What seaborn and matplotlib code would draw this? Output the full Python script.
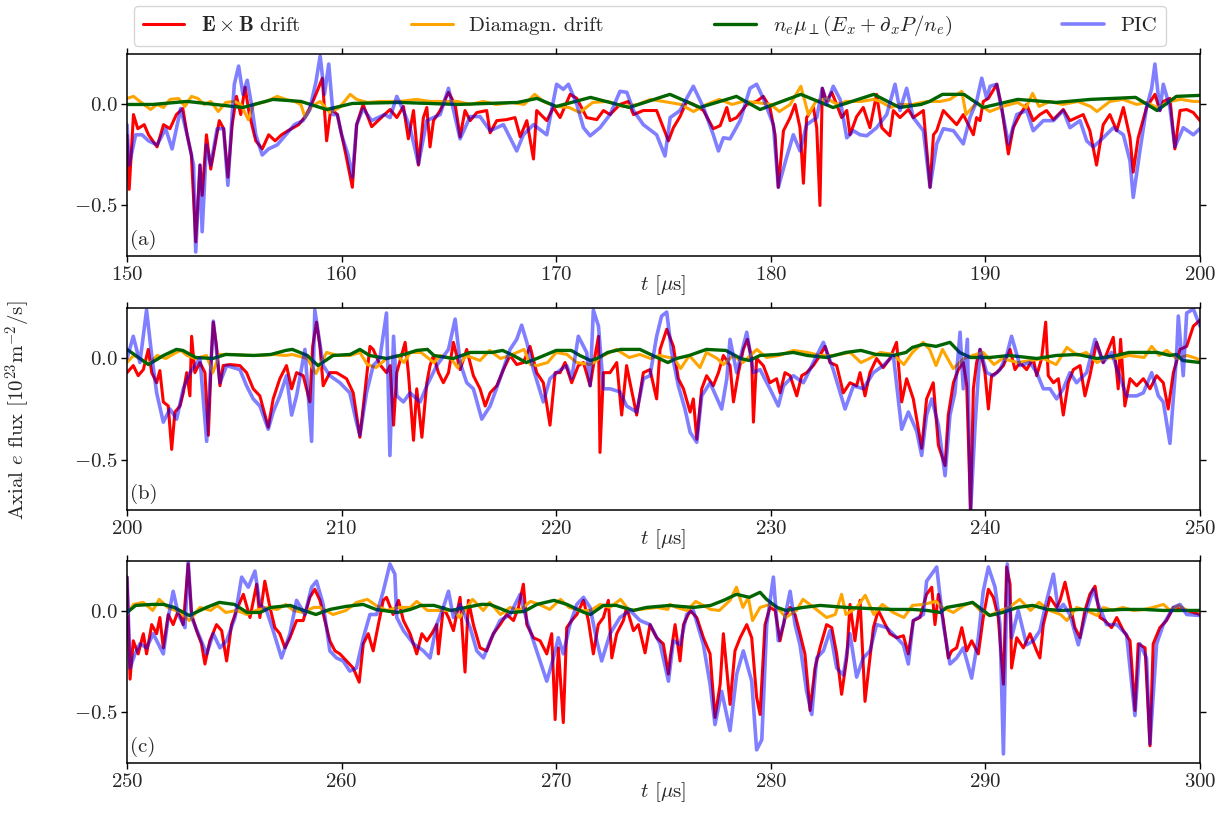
import numpy as np
import matplotlib
matplotlib.use("Agg")
import matplotlib.pyplot as plt
import seaborn as sns

# values: (t [us], axial e flux [1e23 m^-2/s])
# ---- panel (a): 150-200 us ----
EXB_A = [(150.0, -0.15), (150.1, -0.42), (150.3, -0.05), (150.5, -0.12), (150.8, -0.10), (151.0, -0.15),
         (151.4, -0.21), (151.7, -0.10), (152.0, -0.12), (152.3, -0.05), (152.6, -0.02), (152.8, -0.15),
         (153.0, -0.25), (153.2, -0.68), (153.4, -0.30), (153.5, -0.45), (153.7, -0.15), (153.9, -0.32),
         (154.1, -0.20), (154.3, -0.08), (154.5, -0.12), (154.7, -0.36), (154.9, -0.10), (155.1, 0.04),
         (155.3, -0.05), (155.5, 0.085), (155.7, -0.05), (156.0, -0.18), (156.3, -0.22), (156.6, -0.15),
         (156.9, -0.18), (157.2, -0.15), (157.5, -0.13), (158.0, -0.10), (158.3, -0.06), (158.6, 0.0),
         (158.8, 0.05), (159.1, 0.13), (159.3, -0.18), (159.5, -0.02), (159.8, -0.05), (160.0, -0.15),
         (160.2, -0.25), (160.5, -0.41), (160.7, -0.10), (161.0, 0.0), (161.4, -0.11), (161.7, -0.08),
         (162.0, -0.05), (162.26, -0.025), (162.57, -0.065), (162.88, -0.01), (163.11, -0.17), (163.35, -0.03),
         (163.58, -0.30), (163.81, -0.065), (163.97, -0.015), (164.12, -0.21), (164.28, -0.08), (164.59, -0.03),
         (164.98, 0.06), (165.29, 0.0), (165.52, -0.16), (165.75, -0.03), (165.99, -0.08), (166.30, -0.04),
         (166.76, -0.03), (166.92, -0.14), (167.23, -0.08), (167.69, -0.075), (168.08, -0.065), (168.32, -0.16),
         (168.63, -0.08), (168.94, -0.27), (169.09, -0.03), (169.56, -0.08), (169.87, -0.015), (170.18, -0.065),
         (170.65, 0.05), (170.96, 0.03), (171.42, -0.065), (171.89, -0.075), (172.20, -0.03), (172.51, -0.05),
         (172.97, 0.0), (173.36, 0.015), (173.60, -0.05), (174.06, -0.03), (174.68, -0.03), (174.99, -0.115),
         (175.23, -0.18), (175.46, -0.115), (175.77, -0.06), (176.08, 0.015), (176.39, 0.0), (176.86, -0.03),
         (177.32, -0.12), (177.64, -0.105), (177.95, -0.015), (178.10, -0.08), (178.41, -0.065), (178.88, 0.0),
         (179.34, 0.015), (179.65, 0.04), (179.96, -0.015), (180.20, -0.15), (180.35, -0.41), (180.59, -0.13),
         (180.90, -0.065), (181.13, 0.0), (181.36, -0.115), (181.52, -0.39), (181.67, -0.065), (181.98, -0.01),
         (182.14, -0.115), (182.29, -0.50), (182.40, 0.08), (182.60, 0.015), (182.84, 0.06), (183.07, 0.0),
         (183.30, -0.065), (183.54, -0.03), (183.69, -0.15), (184.00, -0.06), (184.31, -0.015), (184.62, -0.115),
         (184.93, 0.05), (185.17, -0.115), (185.55, -0.155), (185.71, -0.03), (186.02, -0.065), (186.41, -0.025),
         (186.64, -0.065), (187.11, -0.03), (187.42, -0.41), (187.58, -0.15), (187.73, -0.13), (188.04, -0.03),
         (188.35, -0.065), (188.66, -0.10), (188.97, -0.05), (189.44, -0.15), (189.59, -0.065), (189.75, -0.08),
         (189.90, 0.015), (190.14, 0.03), (190.53, 0.10), (190.76, -0.015), (191.07, -0.245), (191.30, -0.115),
         (191.61, -0.05), (191.92, 0.0), (192.23, -0.08), (192.54, -0.05), (192.85, -0.03), (193.17, -0.075),
         (193.63, -0.025), (193.94, -0.08), (194.25, -0.065), (194.56, -0.05), (194.87, -0.13), (195.18, -0.30),
         (195.49, -0.10), (195.80, -0.05), (196.12, -0.13), (196.43, -0.015), (196.74, -0.165), (196.89, -0.335),
         (197.12, -0.165), (197.51, -0.015), (197.90, 0.05), (198.13, -0.03), (198.29, 0.015), (198.60, 0.03),
         (198.83, -0.22), (199.07, -0.03), (199.38, -0.025), (199.69, -0.04), (200.0, -0.08)]

PIC_A = [(150.0, -0.10), (150.1, -0.30), (150.4, -0.15), (150.7, -0.15), (151.0, -0.18), (151.4, -0.20),
         (151.8, -0.12), (152.1, -0.22), (152.5, -0.02), (152.8, -0.15), (153.1, -0.30), (153.2, -0.73),
         (153.4, -0.30), (153.5, -0.63), (153.7, -0.20), (153.9, -0.30), (154.2, -0.12), (154.5, -0.12),
         (154.7, -0.40), (154.9, -0.05), (155.0, 0.10), (155.2, 0.19), (155.4, 0.05), (155.6, 0.12),
         (155.8, 0.0), (156.0, -0.15), (156.3, -0.25), (156.6, -0.22), (157.0, -0.20), (157.4, -0.15),
         (157.8, -0.10), (158.2, -0.08), (158.5, -0.03), (158.8, 0.11), (159.0, 0.24), (159.2, 0.05),
         (159.4, 0.20), (159.6, -0.05), (159.8, -0.05), (160.0, -0.15), (160.3, -0.25), (160.5, -0.36),
         (160.7, -0.10), (161.0, -0.02), (161.4, -0.08), (162.0, -0.05), (162.26, -0.065), (162.57, 0.04),
         (162.88, -0.03), (163.19, -0.115), (163.58, -0.295), (163.97, -0.08), (164.59, -0.05), (164.98, 0.08),
         (165.52, -0.17), (165.99, -0.06), (166.45, -0.06), (166.92, -0.13), (167.54, -0.10), (168.16, -0.23),
         (168.47, -0.15), (168.94, -0.10), (169.56, -0.15), (170.02, 0.10), (170.33, 0.075), (170.57, 0.10),
         (170.96, 0.0), (171.27, -0.115), (171.58, -0.155), (172.04, -0.115), (172.51, -0.05), (172.97, 0.065),
         (173.29, 0.06), (173.60, -0.03), (174.06, -0.10), (174.68, -0.15), (175.07, -0.255), (175.31, -0.065),
         (175.77, -0.03), (176.39, 0.09), (176.86, -0.015), (177.32, -0.15), (177.56, -0.23), (177.79, -0.165),
         (178.10, -0.17), (178.57, -0.08), (179.03, 0.08), (179.34, 0.10), (179.65, 0.03), (180.12, -0.10),
         (180.35, -0.41), (180.74, -0.26), (181.05, -0.15), (181.36, -0.23), (181.67, -0.10), (182.14, -0.065),
         (182.40, 0.08), (182.60, 0.0), (182.91, 0.09), (183.23, 0.025), (183.54, -0.165), (183.85, -0.13),
         (184.16, -0.15), (184.47, -0.155), (184.93, -0.115), (185.40, -0.05), (185.79, 0.10), (186.02, -0.03),
         (186.33, 0.08), (186.64, -0.065), (187.11, -0.13), (187.42, -0.41), (187.73, -0.195), (188.04, -0.12),
         (188.51, -0.13), (188.97, -0.195), (189.28, -0.065), (189.59, 0.015), (189.83, 0.13), (190.06, 0.03),
         (190.22, 0.09), (190.53, 0.10), (190.84, -0.065), (191.07, -0.195), (191.46, -0.05), (191.92, -0.03),
         (192.23, -0.13), (192.70, -0.08), (193.17, -0.08), (193.63, -0.03), (193.94, -0.115), (194.41, -0.08),
         (194.72, -0.18), (195.03, -0.21), (195.49, -0.165), (195.96, -0.115), (196.43, -0.15), (196.74, -0.28),
         (196.89, -0.46), (197.20, -0.23), (197.51, -0.015), (197.75, 0.08), (197.90, 0.20), (198.13, -0.03),
         (198.29, 0.10), (198.60, -0.015), (198.83, -0.21), (199.22, -0.115), (199.69, -0.15), (200.0, -0.12)]

DIA_A = [(150.0, 0.03), (150.3, 0.04), (150.6, 0.015), (151.1, -0.025), (151.4, 0.0), (151.7, -0.015),
         (152.0, 0.025), (152.4, 0.03), (152.7, -0.01), (153.0, 0.04), (153.3, 0.03), (153.6, 0.0),
         (153.9, 0.015), (154.25, -0.035), (154.6, 0.01), (155.0, 0.015), (155.3, 0.0), (155.65, -0.075),
         (155.9, 0.0), (156.5, 0.015), (157.0, 0.04), (157.4, 0.025), (157.8, 0.015), (158.1, 0.0),
         (158.3, -0.065), (158.6, -0.01), (159.0, 0.015), (159.45, -0.04), (159.9, -0.015), (160.4, 0.05),
         (160.7, 0.025), (161.2, 0.01), (161.8, 0.015), (162.4, 0.015), (162.7, 0.015), (163.5, 0.025),
         (164.1, 0.015), (164.7, 0.015), (165.4, 0.015), (166.0, 0.0), (166.6, 0.015), (167.2, 0.0),
         (167.9, 0.01), (168.5, 0.0), (169.0, 0.05), (169.4, 0.015), (170.0, -0.01), (170.6, -0.015),
         (171.1, -0.04), (171.7, 0.01), (172.4, 0.015), (173.1, -0.01), (173.8, 0.0), (174.4, 0.025),
         (175.0, 0.015), (175.8, 0.0), (176.4, -0.035), (177.0, 0.0), (177.6, 0.025), (178.2, 0.0),
         (178.7, 0.015), (179.3, 0.01), (180.0, 0.0), (180.4, -0.035), (180.9, 0.0), (181.4, 0.09),
         (181.75, -0.05), (182.1, 0.015), (182.6, 0.03), (183.1, 0.0), (183.5, 0.015), (184.2, 0.015),
         (184.8, 0.025), (185.1, 0.015), (185.6, -0.015), (186.0, 0.0), (186.6, 0.0), (187.3, 0.015),
         (187.9, 0.015), (188.35, 0.025), (188.9, 0.065), (189.1, -0.05), (189.6, 0.01), (190.2, -0.035),
         (190.8, -0.01), (191.5, 0.01), (191.9, -0.015), (192.2, 0.055), (192.5, -0.01), (193.0, 0.015),
         (193.6, 0.0), (194.3, 0.015), (194.9, -0.01), (195.2, -0.035), (195.8, 0.015), (196.4, 0.025),
         (197.05, 0.0), (197.5, 0.01), (198.0, -0.015), (198.6, 0.015), (199.1, 0.025), (199.7, 0.015),
         (200.0, 0.015)]

MOB_A = [(150.0, 0.0), (151.2, 0.0), (152.8, 0.015), (155.4, -0.015), (156.8, 0.025), (158.1, 0.015),
         (159.3, -0.025), (160.5, 0.005), (162.7, 0.01), (165.4, 0.0), (168.2, 0.01), (169.1, 0.03),
         (170.0, -0.01), (171.6, 0.035), (173.4, -0.015), (175.0, 0.04), (175.3, 0.05), (176.7, -0.015),
         (178.4, 0.04), (179.5, -0.025), (181.4, 0.05), (182.9, -0.015), (184.8, 0.05), (186.0, -0.015),
         (187.0, 0.0), (187.4, 0.015), (188.0, 0.05), (189.0, 0.05), (189.9, -0.015), (191.5, 0.025),
         (193.3, 0.01), (194.9, 0.025), (197.0, 0.035), (198.0, -0.03), (198.9, 0.04), (200.0, 0.045)]

# ---- panel (b): 200-250 us ----
EXB_B = [(200.0, -0.07), (200.29, -0.035), (200.52, -0.085), (200.76, -0.055), (200.99, 0.045), (201.15, -0.07),
         (201.38, -0.12), (201.53, -0.06), (201.69, -0.215), (201.92, -0.235), (202.08, -0.45), (202.23, -0.265),
         (202.47, -0.235), (202.62, -0.17), (202.78, -0.07), (202.93, -0.185), (203.01, 0.11), (203.16, -0.07),
         (203.40, -0.02), (203.63, -0.07), (203.79, -0.38), (203.94, 0.03), (204.02, 0.18), (204.17, 0.06),
         (204.33, -0.135), (204.48, -0.035), (204.79, -0.03), (205.26, -0.035), (205.57, -0.07), (205.88, -0.15),
         (206.19, -0.185), (206.58, -0.34), (206.81, -0.20), (207.12, -0.10), (207.43, -0.035), (207.67, -0.15),
         (207.90, -0.07), (208.21, -0.085), (208.52, -0.215), (208.65, 0.06), (208.83, 0.18), (208.99, 0.06),
         (209.14, -0.135), (209.45, -0.07), (209.76, -0.07), (210.23, -0.10), (210.54, -0.17), (210.85, -0.39),
         (211.08, -0.17), (211.32, 0.06), (211.47, 0.045), (211.78, -0.03), (212.09, -0.07), (212.26, -0.035),
         (212.42, -0.33), (212.57, -0.07), (212.96, 0.08), (213.11, -0.07), (213.35, -0.405), (213.50, -0.15),
         (213.74, -0.39), (213.97, -0.12), (214.12, -0.035), (214.28, 0.015), (214.51, -0.07), (214.74, -0.12),
         (214.98, -0.07), (215.21, 0.08), (215.52, -0.055), (215.83, 0.045), (216.14, -0.085), (216.45, -0.15),
         (216.69, -0.235), (216.92, -0.17), (217.23, -0.135), (217.54, -0.055), (217.85, 0.015), (218.16, -0.03),
         (218.47, -0.02), (218.78, 0.06), (219.09, -0.07), (219.40, -0.12), (219.71, -0.33), (219.95, -0.07),
         (220.18, -0.07), (220.41, -0.02), (220.72, -0.12), (221.03, -0.035), (221.27, -0.02), (221.58, -0.135),
         (221.81, 0.015), (221.97, 0.11), (222.04, -0.465), (222.20, -0.07), (222.51, -0.07), (222.82, -0.02),
         (223.05, -0.28), (223.28, -0.035), (223.44, -0.12), (223.75, -0.28), (224.06, -0.07), (224.37, -0.055),
         (224.68, -0.20), (224.84, 0.045), (225.15, 0.145), (225.46, 0.06), (225.69, -0.10), (225.93, -0.15),
         (226.24, -0.265), (226.39, -0.20), (226.55, -0.40), (226.78, -0.15), (227.01, -0.085), (227.32, -0.135),
         (227.56, -0.07), (227.79, 0.015), (228.10, -0.035), (228.26, -0.215), (228.49, -0.07), (228.72, 0.045),
         (228.91, 0.095), (229.11, 0.0), (229.19, -0.315), (229.34, 0.0), (229.65, -0.035), (229.96, -0.12),
         (230.27, -0.10), (230.43, -0.17), (230.66, -0.07), (230.90, -0.085), (231.21, -0.185), (231.44, -0.085),
         (231.67, -0.07), (231.98, -0.035), (232.29, 0.015), (232.53, 0.06), (232.76, -0.02), (233.07, -0.035),
         (233.38, -0.17), (233.69, -0.12), (234.00, -0.135), (234.16, -0.07), (234.39, -0.185), (234.62, -0.07),
         (234.93, 0.0), (235.24, -0.045), (235.55, 0.0), (235.86, 0.08), (236.10, -0.215), (236.33, -0.10),
         (236.64, -0.20), (237.03, -0.445), (237.26, -0.20), (237.57, -0.12), (237.81, -0.43), (238.12, -0.53),
         (238.27, -0.28), (238.51, -0.12), (238.74, -0.055), (238.97, -0.02), (239.13, -0.135), (239.31, -0.76),
         (239.44, -0.15), (239.59, -0.02), (239.75, 0.045), (239.98, -0.07), (240.14, -0.25), (240.29, -0.085),
         (240.53, -0.07), (240.84, -0.035), (241.15, 0.045), (241.38, -0.055), (241.61, -0.02), (241.92, -0.055),
         (242.23, 0.0), (242.39, -0.085), (242.62, 0.0), (242.81, 0.18), (242.93, -0.085), (243.17, -0.12),
         (243.40, -0.10), (243.63, -0.28), (243.86, -0.12), (244.10, -0.055), (244.41, -0.035), (244.64, -0.185),
         (244.87, -0.085), (245.18, 0.08), (245.49, -0.02), (245.73, 0.045), (245.96, 0.105), (246.19, -0.15),
         (246.30, 0.095), (246.50, -0.235), (246.74, -0.10), (247.05, -0.135), (247.36, -0.10), (247.67, -0.15),
         (247.98, -0.085), (248.29, -0.12), (248.52, -0.25), (248.76, -0.07), (249.07, 0.045), (249.38, 0.06),
         (249.69, 0.16), (250.0, 0.19)]

PIC_B = [(200.0, 0.0), (200.29, 0.11), (200.60, -0.02), (200.91, 0.24), (201.15, 0.015), (201.38, -0.17),
         (201.69, -0.315), (202.00, -0.25), (202.31, -0.30), (202.62, -0.15), (202.93, -0.07), (203.40, 0.0),
         (203.71, -0.41), (204.02, 0.185), (204.33, -0.12), (204.64, -0.035), (205.26, -0.055), (205.57, -0.135),
         (205.88, -0.20), (206.19, -0.235), (206.58, -0.35), (206.81, -0.265), (207.12, -0.185), (207.43, -0.085),
         (207.67, -0.28), (207.90, -0.185), (208.29, 0.045), (208.60, -0.41), (208.75, 0.24), (209.14, -0.035),
         (209.45, -0.085), (209.92, -0.12), (210.38, -0.17), (210.69, -0.315), (210.85, -0.38), (211.16, -0.17),
         (211.47, -0.035), (211.78, 0.0), (212.09, 0.225), (212.25, -0.48), (212.42, 0.11), (212.57, -0.185),
         (212.88, -0.215), (213.19, -0.17), (213.66, -0.215), (213.97, -0.135), (214.43, -0.035), (214.98, 0.045),
         (215.29, 0.195), (215.52, -0.02), (215.83, -0.12), (216.14, -0.15), (216.53, -0.30), (216.92, -0.235),
         (217.38, -0.10), (217.85, 0.045), (218.16, 0.095), (218.39, 0.165), (218.63, 0.08), (218.94, -0.055),
         (219.40, -0.215), (219.71, -0.10), (220.02, -0.07), (220.49, -0.035), (220.72, -0.10), (221.03, 0.11),
         (221.42, 0.03), (221.58, -0.135), (221.73, 0.24), (221.97, 0.16), (222.20, -0.15), (222.51, -0.15),
         (222.97, -0.165), (223.28, -0.235), (223.75, -0.265), (224.06, -0.10), (224.37, -0.085), (224.68, 0.11),
         (224.91, 0.21), (225.15, 0.23), (225.38, 0.03), (225.69, -0.135), (226.00, -0.25), (226.24, -0.365),
         (226.55, -0.415), (226.78, -0.185), (227.17, -0.12), (227.71, -0.25), (227.95, -0.10), (228.10, 0.095),
         (228.41, -0.07), (228.88, 0.13), (229.19, -0.07), (229.50, -0.055), (229.96, -0.15), (230.35, -0.235),
         (230.59, -0.135), (231.05, -0.085), (231.52, -0.12), (231.98, -0.02), (232.45, 0.08), (232.91, -0.055),
         (233.46, -0.25), (233.85, -0.135), (234.31, -0.15), (234.78, -0.07), (235.24, -0.035), (235.71, 0.015),
         (236.10, -0.35), (236.41, -0.265), (236.80, -0.36), (237.03, -0.48), (237.26, -0.28), (237.50, -0.20),
         (237.81, -0.33), (238.12, -0.58), (238.35, -0.28), (238.58, -0.17), (238.82, 0.13), (238.97, -0.15),
         (239.16, 0.095), (239.31, -0.76), (239.52, -0.33), (239.75, 0.045), (240.06, -0.07), (240.37, -0.085),
         (240.68, -0.055), (240.99, 0.015), (241.22, 0.11), (241.61, -0.035), (242.08, -0.02), (242.39, -0.07),
         (242.70, -0.15), (243.01, -0.15), (243.32, -0.20), (243.63, -0.15), (243.94, -0.07), (244.25, -0.12),
         (244.72, -0.07), (245.11, 0.095), (245.49, -0.02), (245.88, 0.03), (246.19, -0.07), (246.58, -0.185),
         (247.05, -0.185), (247.36, -0.17), (247.75, -0.07), (248.06, -0.185), (248.29, -0.215), (248.60, -0.42),
         (248.91, 0.015), (248.99, 0.21), (249.22, -0.085), (249.38, 0.225), (249.69, 0.245), (250.0, 0.16)]

DIA_B = [(200.0, -0.02), (200.3, 0.015), (200.6, 0.0), (201.0, -0.03), (201.4, 0.015), (201.8, 0.0),
         (202.3, 0.03), (202.5, 0.04), (202.8, 0.015), (203.2, 0.0), (203.7, 0.015), (204.0, -0.07),
         (204.3, 0.02), (204.95, 0.02), (205.6, 0.015), (206.2, 0.015), (206.8, 0.02), (207.4, 0.015),
         (207.7, 0.02), (208.4, 0.0), (208.8, -0.075), (209.3, 0.03), (209.8, 0.015), (210.4, 0.015),
         (210.85, 0.03), (211.2, -0.03), (211.6, -0.045), (212.1, 0.0), (212.6, 0.015), (212.9, -0.02),
         (213.2, 0.03), (213.7, 0.03), (214.3, -0.02), (214.6, 0.015), (215.1, 0.0), (215.4, -0.045),
         (215.8, 0.015), (216.45, -0.01), (216.9, 0.04), (217.4, 0.0), (217.85, 0.015), (218.5, 0.045),
         (218.8, -0.03), (219.1, -0.035), (219.6, -0.02), (220.0, 0.03), (220.5, 0.02), (220.95, -0.02),
         (221.6, -0.03), (222.2, 0.015), (222.8, 0.045), (223.4, 0.005), (223.9, 0.02), (224.4, 0.0),
         (224.8, 0.015), (225.5, 0.0), (225.8, -0.05), (226.2, 0.015), (226.7, -0.045), (227.0, 0.03),
         (227.5, 0.0), (227.8, -0.03), (228.25, 0.015), (228.7, -0.02), (229.35, 0.045), (229.8, 0.005),
         (230.4, 0.015), (231.05, 0.04), (231.7, 0.03), (232.3, 0.015), (232.9, 0.015), (233.7, 0.03),
         (234.2, -0.02), (234.6, 0.0), (235.1, 0.03), (235.7, 0.02), (236.2, -0.03), (236.6, 0.03),
         (237.1, 0.08), (237.4, 0.045), (237.7, -0.035), (238.0, 0.045), (238.5, -0.05), (239.0, 0.0),
         (239.4, 0.015), (239.9, 0.03), (240.4, -0.03), (240.8, 0.0), (241.5, -0.02), (242.1, -0.01),
         (242.7, 0.0), (243.3, -0.03), (243.8, 0.055), (244.3, 0.015), (244.7, 0.03), (245.2, -0.02),
         (245.65, 0.005), (246.1, 0.0), (246.7, 0.015), (247.4, 0.005), (247.75, 0.06), (248.1, 0.015),
         (248.45, 0.04), (248.9, 0.0), (249.4, 0.015), (249.85, 0.0), (250.0, -0.01)]

MOB_B = [(200.0, 0.045), (200.6, 0.0), (201.0, -0.03), (201.7, 0.015), (202.3, 0.045), (202.6, 0.04),
         (203.2, 0.005), (204.0, 0.0), (204.6, 0.02), (205.9, 0.015), (206.7, 0.02), (207.4, 0.04),
         (207.7, 0.045), (208.4, 0.015), (208.9, -0.035), (209.6, 0.015), (210.4, 0.02), (210.85, 0.045),
         (211.3, 0.015), (212.1, 0.0), (212.9, 0.02), (213.5, 0.04), (214.0, 0.045), (214.3, 0.015),
         (215.2, 0.0), (216.0, 0.03), (217.0, 0.03), (217.5, 0.04), (218.0, 0.015), (218.6, -0.02),
         (219.1, 0.0), (220.0, 0.04), (220.7, 0.04), (221.1, 0.015), (221.6, -0.01), (221.9, 0.0),
         (222.4, 0.03), (223.0, 0.045), (223.9, 0.045), (224.5, 0.015), (225.2, -0.02), (225.6, 0.0),
         (226.2, 0.015), (227.0, 0.045), (227.9, 0.04), (228.6, 0.0), (229.0, -0.01), (229.5, 0.015),
         (230.3, 0.02), (231.05, 0.03), (231.7, 0.015), (232.6, 0.005), (233.5, 0.03), (234.2, 0.04),
         (234.9, 0.02), (235.7, 0.015), (236.3, 0.03), (236.6, 0.055), (237.1, 0.07), (237.7, 0.06),
         (238.35, 0.08), (238.8, 0.03), (239.3, 0.005), (240.2, 0.005), (241.1, 0.015), (242.4, 0.0),
         (243.3, 0.015), (244.3, 0.02), (245.2, 0.0), (246.1, 0.015), (246.7, 0.03), (248.0, 0.03),
         (248.6, 0.015), (248.9, 0.02), (249.2, -0.01), (250.0, -0.02)]

# ---- panel (c): 250-300 us ----
EXB_C = [(250.0, 0.17), (250.14, -0.335), (250.29, -0.145), (250.52, -0.21), (250.76, -0.11), (250.91, -0.21),
         (251.15, -0.065), (251.38, -0.11), (251.53, -0.03), (251.69, -0.18), (251.92, -0.015), (252.15, -0.065),
         (252.39, 0.005), (252.62, -0.065), (252.85, 0.235), (253.01, -0.015), (253.24, -0.095), (253.47, -0.16),
         (253.63, -0.26), (253.86, -0.145), (254.17, -0.065), (254.41, -0.095), (254.64, -0.245), (254.87, -0.065),
         (255.10, 0.005), (255.42, 0.085), (255.73, -0.03), (256.04, 0.135), (256.19, -0.03), (256.42, 0.15),
         (256.66, 0.02), (256.89, -0.08), (257.12, -0.11), (257.36, -0.18), (257.59, -0.13), (257.90, -0.045),
         (258.21, -0.045), (258.52, 0.07), (258.75, 0.11), (258.99, 0.055), (259.22, -0.045), (259.45, -0.145),
         (259.69, -0.195), (259.92, -0.21), (260.23, -0.245), (260.54, -0.28), (260.82, -0.35), (261.01, -0.16),
         (261.24, -0.11), (261.47, -0.195), (261.71, -0.065), (261.94, 0.055), (262.09, 0.07), (262.40, -0.015),
         (262.65, 0.055), (262.88, -0.045), (263.19, -0.11), (263.50, -0.21), (263.74, -0.11), (263.97, -0.145),
         (264.20, -0.11), (264.43, -0.065), (264.51, -0.21), (264.74, 0.02), (264.98, -0.03), (265.21, -0.095),
         (265.52, 0.07), (265.75, -0.30), (265.91, 0.055), (266.14, -0.065), (266.45, -0.18), (266.76, -0.195),
         (267.07, -0.11), (267.38, -0.065), (267.69, -0.015), (268.01, -0.045), (268.24, 0.02), (268.47, 0.135),
         (268.63, -0.065), (268.94, -0.13), (269.25, -0.145), (269.56, -0.21), (269.79, -0.11), (269.95, -0.535),
         (270.10, -0.18), (270.33, -0.55), (270.49, -0.08), (270.72, -0.045), (270.96, -0.015), (271.27, 0.055),
         (271.50, -0.045), (271.73, -0.21), (271.96, -0.065), (272.20, -0.03), (272.43, 0.055), (272.59, -0.23),
         (272.82, -0.11), (273.13, -0.045), (273.28, 0.02), (273.60, -0.095), (273.83, -0.065), (274.14, -0.205),
         (274.37, -0.065), (274.68, -0.13), (274.99, -0.16), (275.23, -0.31), (275.31, -0.23), (275.54, -0.065),
         (275.77, -0.245), (275.93, -0.065), (276.24, 0.005), (276.55, -0.03), (276.86, -0.13), (277.17, -0.21),
         (277.40, -0.525), (277.64, -0.36), (277.79, -0.11), (278.10, -0.46), (278.33, -0.195), (278.57, -0.13),
         (278.88, -0.065), (279.11, -0.13), (279.34, -0.425), (279.50, -0.51), (279.73, -0.065), (279.96, 0.02),
         (280.20, 0.005), (280.43, -0.145), (280.66, -0.03), (280.90, 0.02), (281.13, -0.015), (281.36, -0.11),
         (281.59, -0.21), (281.83, -0.49), (282.06, -0.28), (282.29, -0.18), (282.60, -0.065), (282.84, -0.08),
         (283.07, -0.21), (283.30, -0.41), (283.54, -0.23), (283.69, 0.035), (283.92, -0.145), (284.16, 0.055),
         (284.39, -0.445), (284.62, -0.23), (284.78, -0.08), (285.01, 0.005), (285.24, -0.045), (285.55, -0.11),
         (285.87, -0.13), (286.18, -0.12), (286.41, -0.21), (286.64, -0.045), (286.95, -0.03), (287.26, 0.085),
         (287.50, 0.12), (287.65, -0.065), (287.81, 0.085), (288.04, -0.045), (288.27, -0.23), (288.43, -0.195),
         (288.66, -0.18), (288.90, -0.08), (289.13, -0.195), (289.36, -0.145), (289.67, -0.21), (289.90, -0.03),
         (290.14, 0.11), (290.37, 0.07), (290.60, -0.03), (290.84, -0.36), (290.99, 0.22), (291.15, 0.135),
         (291.22, -0.28), (291.46, -0.13), (291.77, -0.18), (292.08, -0.11), (292.39, -0.195), (292.54, -0.23),
         (292.70, -0.065), (293.01, 0.07), (293.32, 0.02), (293.48, 0.055), (293.71, 0.145), (293.94, 0.035),
         (294.17, -0.08), (294.41, -0.13), (294.64, 0.005), (294.87, 0.085), (295.11, 0.125), (295.34, -0.03),
         (295.57, -0.045), (295.88, -0.08), (296.12, -0.03), (296.43, -0.095), (296.74, -0.145), (296.97, -0.49),
         (297.12, -0.16), (297.44, -0.18), (297.67, -0.665), (297.82, -0.16), (298.13, -0.08), (298.44, -0.045),
         (298.76, 0.02), (299.07, 0.02), (299.38, 0.005), (300.0, -0.015)]

PIC_C = [(250.0, 0.17), (250.14, -0.28), (250.37, -0.21), (250.60, -0.16), (250.91, -0.18), (251.22, -0.11),
         (251.69, -0.21), (251.92, -0.03), (252.15, 0.10), (252.39, -0.015), (252.70, -0.08), (252.85, 0.25),
         (253.01, -0.03), (253.32, -0.11), (253.71, -0.21), (254.02, -0.11), (254.33, -0.18), (254.64, -0.145),
         (255.03, -0.03), (255.34, 0.17), (255.65, 0.12), (255.96, 0.20), (256.19, 0.035), (256.50, 0.005),
         (256.81, -0.095), (257.20, -0.23), (257.59, -0.11), (257.90, 0.055), (258.29, -0.015), (258.60, 0.12),
         (258.83, 0.15), (259.14, 0.035), (259.45, -0.195), (259.76, -0.23), (260.07, -0.245), (260.38, -0.295),
         (260.69, -0.28), (261.01, -0.13), (261.32, -0.015), (261.63, -0.015), (261.94, 0.10), (262.25, 0.235),
         (262.48, 0.185), (262.57, -0.03), (262.88, -0.095), (263.35, -0.16), (263.81, -0.195), (264.12, -0.23),
         (264.43, -0.065), (264.74, 0.02), (264.98, 0.10), (265.21, -0.03), (265.52, 0.035), (265.99, -0.08),
         (266.30, -0.195), (266.61, -0.23), (266.92, -0.145), (267.38, -0.045), (267.85, -0.015), (268.32, 0.085),
         (268.63, -0.045), (269.09, -0.195), (269.56, -0.345), (269.87, -0.23), (270.10, -0.13), (270.33, -0.21),
         (270.64, -0.065), (270.96, 0.035), (271.27, 0.07), (271.58, 0.02), (271.89, -0.145), (272.12, -0.245),
         (272.51, -0.11), (272.97, -0.03), (273.44, 0.005), (273.91, -0.045), (274.37, -0.065), (274.84, -0.16),
         (275.23, -0.345), (275.46, -0.145), (275.77, -0.165), (276.08, -0.015), (276.39, 0.005), (276.86, -0.165),
         (277.17, -0.36), (277.40, -0.56), (277.71, -0.395), (278.10, -0.59), (278.41, -0.31), (278.72, -0.195),
         (279.11, -0.345), (279.34, -0.685), (279.58, -0.635), (279.81, -0.065), (280.12, 0.17), (280.35, -0.145),
         (280.59, -0.065), (280.90, 0.10), (281.13, -0.065), (281.36, -0.165), (281.67, -0.395), (281.91, -0.51),
         (282.14, -0.23), (282.45, -0.195), (282.76, -0.095), (283.07, -0.28), (283.38, -0.315), (283.69, -0.11),
         (284.00, -0.325), (284.31, -0.23), (284.62, -0.195), (284.93, -0.065), (285.40, -0.08), (285.87, -0.13),
         (286.18, -0.165), (286.41, -0.26), (286.64, -0.045), (287.11, -0.015), (287.26, 0.15), (287.73, 0.22),
         (288.04, -0.065), (288.35, -0.26), (288.66, -0.23), (288.97, -0.18), (289.36, -0.33), (289.67, -0.13),
         (289.90, 0.10), (290.14, 0.22), (290.45, 0.12), (290.68, -0.065), (290.84, -0.705), (291.02, 0.235),
         (291.22, -0.13), (291.53, 0.005), (291.92, -0.165), (292.23, -0.145), (292.54, -0.095), (292.86, 0.055),
         (293.17, 0.185), (293.40, 0.005), (293.63, 0.035), (293.94, -0.015), (294.33, -0.165), (294.72, 0.005),
         (295.03, 0.11), (295.26, 0.035), (295.65, -0.065), (296.12, -0.065), (296.58, -0.115), (296.97, -0.515),
         (297.20, -0.16), (297.51, -0.23), (297.67, -0.655), (297.98, -0.16), (298.29, -0.065), (298.76, 0.02),
         (299.07, 0.035), (299.38, -0.015), (300.0, -0.02)]

DIA_C = [(250.0, -0.015), (250.3, 0.035), (250.75, 0.045), (251.2, 0.005), (251.5, 0.06), (251.9, 0.02),
         (252.5, -0.005), (252.9, -0.045), (253.4, 0.02), (253.9, 0.005), (254.2, 0.03), (254.6, -0.005),
         (255.1, 0.005), (255.6, -0.015), (256.0, 0.005), (256.5, 0.02), (257.0, 0.01), (257.4, 0.035),
         (257.75, 0.005), (258.2, -0.005), (258.7, 0.02), (259.0, 0.02), (259.6, -0.015), (260.2, 0.005),
         (260.7, 0.045), (261.2, 0.06), (261.6, 0.03), (262.1, 0.005), (262.6, 0.02), (263.2, 0.02),
         (263.5, 0.05), (264.0, 0.005), (264.6, 0.005), (265.2, 0.005), (265.5, -0.03), (266.1, 0.06),
         (266.6, 0.005), (266.9, 0.045), (267.4, -0.015), (267.85, 0.02), (268.3, 0.005), (268.8, 0.05),
         (269.2, 0.035), (269.7, 0.01), (270.2, 0.06), (270.6, 0.02), (271.1, 0.005), (271.6, 0.005),
         (272.05, 0.035), (272.5, 0.02), (273.0, 0.06), (273.4, 0.005), (273.9, 0.01), (274.7, 0.02),
         (275.2, 0.01), (275.3, 0.035), (275.6, 0.02), (276.1, 0.005), (276.5, 0.05), (277.2, 0.01),
         (277.6, 0.005), (278.1, 0.055), (278.4, 0.12), (278.7, 0.02), (278.95, 0.07), (279.15, -0.045),
         (279.5, 0.02), (279.96, 0.035), (280.3, 0.02), (280.7, -0.03), (281.2, 0.005), (281.5, 0.06),
         (282.0, 0.02), (282.6, -0.03), (283.0, -0.015), (283.3, 0.085), (283.5, -0.015), (284.0, 0.02),
         (284.4, 0.08), (284.8, -0.015), (285.2, 0.035), (285.7, -0.005), (286.2, -0.03), (286.6, 0.03),
         (287.1, 0.035), (287.7, 0.05), (288.0, 0.02), (288.5, -0.005), (289.0, 0.03), (289.4, 0.045),
         (289.75, 0.005), (290.2, -0.02), (290.7, 0.005), (291.1, 0.02), (291.6, 0.06), (292.1, 0.005),
         (292.5, 0.045), (293.0, 0.005), (293.5, -0.015), (293.8, -0.045), (294.25, 0.02), (294.7, 0.005),
         (295.2, -0.02), (295.5, 0.02), (295.95, 0.005), (296.4, 0.02), (296.9, 0.005), (297.4, 0.01),
         (297.8, 0.02), (298.3, 0.035), (298.6, 0.005), (299.0, 0.03), (299.4, 0.005), (300.0, 0.005)]

MOB_C = [(250.0, -0.005), (250.4, 0.03), (251.2, 0.035), (251.7, 0.035), (252.2, 0.02), (252.9, -0.02),
         (253.7, 0.02), (254.3, 0.045), (255.0, 0.035), (255.6, -0.005), (256.2, -0.005), (256.7, 0.02),
         (257.6, 0.03), (258.1, 0.01), (258.8, -0.015), (259.45, 0.01), (260.2, 0.025), (261.0, 0.035),
         (261.6, 0.01), (262.6, -0.005), (263.2, 0.01), (263.7, 0.03), (264.3, 0.03), (265.1, 0.005),
         (265.8, 0.02), (266.5, 0.035), (266.9, 0.035), (267.5, 0.01), (267.85, -0.005), (268.5, 0.0),
         (269.1, 0.035), (269.9, 0.055), (270.5, 0.035), (271.3, -0.005), (271.6, -0.015), (272.2, 0.03),
         (272.8, 0.03), (273.6, 0.005), (274.2, 0.02), (275.3, 0.03), (275.8, 0.025), (276.4, 0.02),
         (277.2, 0.03), (277.8, 0.055), (278.4, 0.085), (279.0, 0.07), (279.5, 0.095), (279.8, 0.06),
         (280.3, 0.02), (280.7, 0.005), (281.5, 0.02), (282.3, 0.03), (283.5, 0.02), (284.5, 0.015),
         (285.7, 0.01), (286.6, 0.01), (287.3, 0.005), (287.9, -0.005), (288.2, 0.02), (289.0, 0.035),
         (289.4, 0.045), (289.9, 0.005), (290.2, -0.02), (290.8, -0.005), (291.5, 0.02), (292.2, 0.03),
         (292.9, 0.01), (293.6, 0.005), (294.4, 0.01), (295.5, 0.005), (296.4, 0.01), (297.4, 0.01),
         (298.3, 0.005), (299.1, 0.005), (300.0, 0.005)]

PANELS = [("(a)", 150, 200, EXB_A, DIA_A, MOB_A, PIC_A),
          ("(b)", 200, 250, EXB_B, DIA_B, MOB_B, PIC_B),
          ("(c)", 250, 300, EXB_C, DIA_C, MOB_C, PIC_C)]

LABELS = [r"$\mathbf{E}\times\mathbf{B}$ drift", "Diamagn. drift",
          r"$n_e\mu_\perp(E_x+\partial_x P/n_e)$", "PIC"]

sns.set_theme(style="ticks")
plt.rcParams["font.family"] = ["cmr10", "DejaVu Serif"]
plt.rcParams["mathtext.fontset"] = "cm"
plt.rcParams["axes.formatter.use_mathtext"] = True
plt.rcParams["axes.unicode_minus"] = True

fig = plt.figure(figsize=(12.31, 8.15), dpi=100)
bottoms = [0.6859, 0.3742, 0.0638]
axes = [fig.add_axes([0.1032, b, 0.8716, 0.2479]) for b in bottoms]

for ax, (tag, t0, t1, exb, dia, mob, pic) in zip(axes, PANELS):
    series = [(exb, "red", 2.2, 1.0), (dia, "orange", 2.2, 1.0),
              (mob, "darkgreen", 2.4, 1.0), (pic, "blue", 2.6, 0.5)]
    for (data, col, lw, a), lab in zip(series, LABELS):
        t, v = np.array(data).T
        sns.lineplot(x=t, y=v, ax=ax, color=col, lw=lw, alpha=a,
                     estimator=None, sort=False, label=lab, legend=False)

    ax.set_xlim(t0, t1)
    ax.set_ylim(-0.75, 0.25)
    ax.set_xticks(np.arange(t0, t1 + 1, 10))
    ax.set_yticks([-0.5, 0.0])
    ax.tick_params(direction="out", top=True, right=True, labelsize=15,
                   length=4, width=1, color="black", pad=3)
    for sp in ax.spines.values():
        sp.set_visible(True)
        sp.set_color("black")
        sp.set_linewidth(1.1)
    ax.set_xlabel(r"$t$ [$\mu$s]", fontsize=15)
    ax.xaxis.set_label_coords(0.5, -0.085)
    ax.set_ylabel("")
    ax.text(0.003, 0.03, tag, transform=ax.transAxes, fontsize=15,
            ha="left", va="bottom")

fig.text(0.015, 0.497, r"Axial $e$ flux [$10^{23}$m$^{-2}$/s]", rotation=90,
         ha="center", va="center", fontsize=15)

handles, labels = axes[0].get_legend_handles_labels()
fig.legend(handles, labels, loc="upper center", bbox_to_anchor=(0.528, 1.006),
           ncol=4, fontsize=15, frameon=True, fancybox=True, edgecolor="0.8",
           columnspacing=5.3, handlelength=2.0, borderpad=0.4)

fig.savefig("out.png", dpi=100)
